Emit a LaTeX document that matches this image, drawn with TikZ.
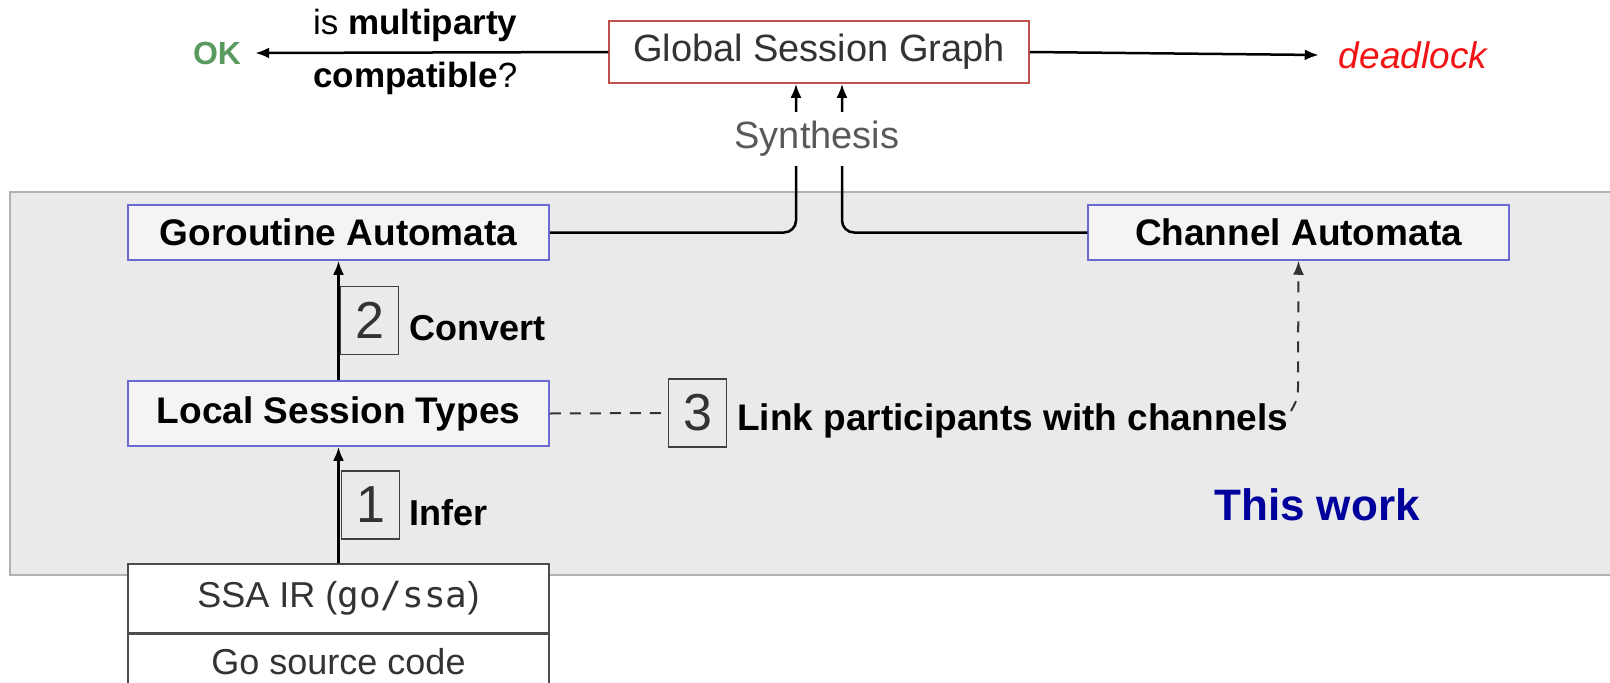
\documentclass[tikz,border=0pt]{standalone}
\usepackage{fontspec}
\setmainfont{Liberation Sans}
\setmonofont{DejaVu Sans Mono}
\usetikzlibrary{arrows.meta}

\definecolor{gsred}{HTML}{C0504D}
\definecolor{autoblue}{HTML}{6A6AD2}
\definecolor{boxfill}{HTML}{F4F4F4}
\definecolor{bggray}{HTML}{EAEAEA}
\definecolor{okgreen}{HTML}{5A9A5E}
\definecolor{deadred}{HTML}{F21414}
\definecolor{workblue}{HTML}{00009C}

\newcommand{\fs}[1]{\fontsize{#1}{#1}\selectfont}

\begin{document}
\begin{tikzpicture}[x=1pt,y=-1pt,
    conn/.style={line width=2.5pt,-{Latex[length=14pt,width=11pt]}},
    dashline/.style={line width=2pt,black!80,dash pattern=on 11pt off 9pt},
    gsbox/.style={draw=gsred,fill=white,line width=1.5pt,minimum width=420pt,minimum height=62pt,font=\fs{38},text=black!80},
    autobox/.style={draw=autoblue,fill=boxfill,line width=1.5pt,minimum width=421pt,minimum height=55pt,font=\fs{37}\bfseries},
    srcbox/.style={draw=black!70,fill=white,line width=1.5pt,minimum width=421pt,minimum height=69pt,font=\fs{36},text=black!80},
    numbox/.style={draw=black!75,line width=1.2pt,minimum width=58pt,minimum height=68pt,inner sep=0pt,font=\fs{52},text=black!80},
    steplabel/.style={anchor=west,inner sep=0pt,font=\fs{36}\bfseries}
  ]
  \useasboundingbox (0,0) rectangle (1610,683);
  \clip (0,0) rectangle (1610,683);

  % this work
  \fill[bggray] (10,192) rectangle (1630,575);
  \draw[black!30,line width=1.5pt] (1630,192) -- (10,192) -- (10,575) -- (1630,575);
  \node[font=\fs{44}\bfseries,text=workblue] (work) at (1317,505) {This work};

  % top row
  \node[gsbox] (gsg) at (819,52) {Global Session Graph};
  \node[font=\fs{32}\bfseries,text=okgreen,inner xsep=14pt] (ok) at (217,53) {OK};
  \node[font=\fs{37}\itshape,text=deadred,inner xsep=20pt] (dead) at (1413,55) {deadlock};
  \node[anchor=west,inner sep=0pt,font=\fs{35}] (isq) at (313,25) {is \textbf{multiparty}};
  \node[anchor=west,inner sep=0pt,font=\fs{35}] (compat) at (313,78) {\textbf{compatible}?};
  \draw[conn] (gsg.west) -- (ok.east);
  \draw[conn] (gsg.east) -- (dead.west);

  % automata
  \node[autobox] (goro) at (338.5,232.5) {Goroutine Automata};
  \node[autobox] (chan) at (1298.5,232.5) {Channel Automata};
  \node[autobox,minimum height=65pt] (lst) at (338.5,413.5) {Local Session Types};

  \draw[conn,rounded corners=12pt] (goro.east) -| ([xshift=-23pt]gsg.south);
  \draw[conn,rounded corners=12pt] (chan.west) -| ([xshift=23pt]gsg.south);
  \node[fill=white,inner xsep=4pt,inner ysep=9pt,font=\fs{38},text=black!65] (synth) at (817,139) {Synthesis};

  % source
  \node[srcbox] (ssa) at (338.5,598.5) {SSA IR (\texttt{go/ssa})};
  \node[srcbox,anchor=north,minimum height=54pt] (gosrc) at (ssa.south) {Go source code};

  % steps
  \draw[conn,line width=3pt] (ssa.north) -- (lst.south);
  \node[numbox] (one) at (370.5,505) {1};
  \node[steplabel] (infer) at (409,513) {Infer};

  \draw[conn] (lst.north) -- (goro.south);
  \node[numbox] (two) at (369.5,320.5) {2};
  \node[steplabel] (convert) at (409,328) {Convert};

  \node[numbox] (three) at (697.5,413) {3};
  \node[steplabel,font=\fs{37}\bfseries] (link) at (737,421) {Link participants with channels};
  \draw[dashline] (lst.east) -- (three.west);
  \coordinate (tail) at (1291,411);
  \draw[dashline,-{Latex[length=14pt,width=11pt]}] (tail) .. controls (1298,398) .. (1298,384) -- (chan.south);
\end{tikzpicture}
\end{document}
